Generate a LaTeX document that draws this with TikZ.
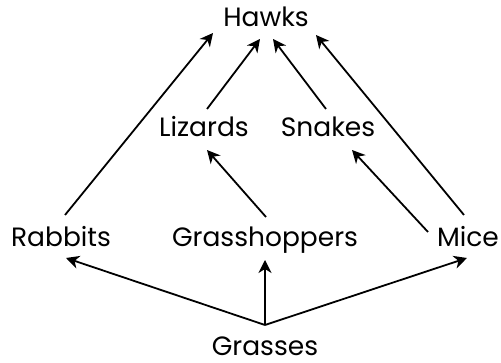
\documentclass[tikz,border=0pt]{standalone}
\usepackage{fontspec}
\setmainfont{Poppins}
\usetikzlibrary{arrows.meta,calc}
\begin{document}
\begin{tikzpicture}[x=1pt,y=1pt,
  lbl/.style={anchor=base,inner sep=0pt,font=\fontsize{26.5}{30}\selectfont},
  arr/.style={line width=1.8pt,-{Stealth[length=13pt,width=13pt,inset=4pt]}}]
\useasboundingbox (0,0) rectangle (501,363);
\node[lbl] (hawks) at (266,336) {Hawks};
\node[lbl] (liz) at (204,226) {Lizards};
\node[lbl] (snk) at (328,226) {Snakes};
\node[lbl] (rab) at (61,116) {Rabbits};
\node[lbl] (gh) at (265,116) {Grasshoppers};
\node[lbl] (mice) at (468,116) {Mice};
\node[lbl] (grs) at (265,7) {Grasses};
\draw[arr] ($(rab.base)+(4,32)$) -- ($(hawks.base)+(-53,-6)$);
\draw[arr] ($(liz.base)+(3,28)$) -- ($(hawks.base)+(-6,-12)$);
\draw[arr] ($(snk.base)+(-2,28)$) -- ($(hawks.base)+(7,-12)$);
\draw[arr] ($(mice.base)+(-4,32)$) -- ($(hawks.base)+(50,-8)$);
\draw[arr] ($(gh.base)+(1,30)$) -- ($(liz.base)+(3,-13)$);
\draw[arr] ($(mice.base)+(-40,15)$) -- ($(snk.base)+(24,-13)$);
\draw[arr] ($(grs.base)+(0,31)$) -- ($(rab.base)+(5,-11)$);
\draw[arr] ($(grs.base)+(0,31)$) -- ($(gh.base)+(0,-13)$);
\draw[arr] ($(grs.base)+(0,31)$) -- ($(mice.base)+(-1,-11)$);
\end{tikzpicture}
\end{document}
